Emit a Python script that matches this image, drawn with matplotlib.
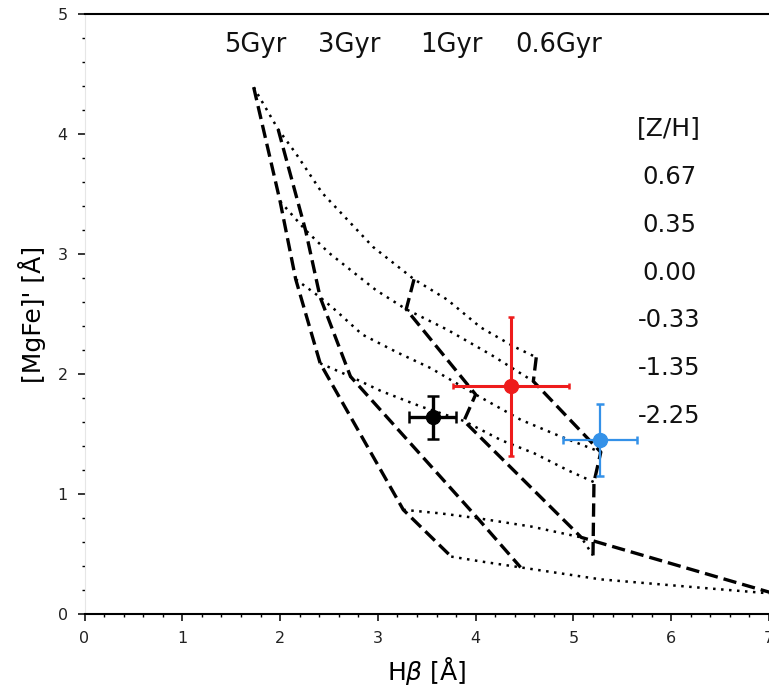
import numpy as np
import matplotlib.pyplot as plt
from matplotlib.ticker import MultipleLocator

# model grid labels
ages = ['5Gyr', '3Gyr', '1Gyr', '0.6Gyr']
metallicities = ['0.67', '0.35', '0.00', '-0.33', '-1.35', '-2.25']

# iso-age lines: one point per [Z/H] (nan = not in the grid)
age_hbeta = [
    [1.73, 2.00, 2.16, 2.41, 3.26, 3.75],
    [1.98, 2.26, 2.41, 2.72, 4.02, 4.46],
    [3.37, 3.29, 4.00, 3.88, 5.08, 7.06],
    [4.62, 4.59, 5.28, 5.21, 5.20, np.nan],
]
age_mgfe = [
    [4.39, 3.44, 2.79, 2.09, 0.87, 0.48],
    [4.04, 3.20, 2.64, 1.98, 0.80, 0.39],
    [2.79, 2.54, 1.83, 1.61, 0.64, 0.17],
    [2.14, 1.94, 1.35, 1.10, 0.49, np.nan],
]

# iso-metallicity tracks, old -> young
zh_hbeta = [
    [1.73, 1.98, 2.16, 2.43, 2.95, 3.37, 3.71, 4.05, 4.39, 4.62],
    [2.00, 2.26, 2.50, 2.98, 3.29, 3.71, 4.16, 4.59],
    [2.16, 2.41, 2.57, 2.84, 3.20, 3.54, 4.00, 4.46, 4.87, 5.28],
    [2.41, 2.72, 3.03, 3.44, 3.88, 4.26, 4.60, 4.94, 5.21],
    [3.26, 3.64, 4.02, 4.57, 5.08, 5.20],
    [3.75, 4.05, 4.46, 5.28, 6.31, 7.06],
]
zh_mgfe = [
    [4.39, 4.04, 3.84, 3.51, 3.06, 2.79, 2.62, 2.39, 2.23, 2.14],
    [3.44, 3.20, 3.01, 2.70, 2.54, 2.37, 2.16, 1.94],
    [2.79, 2.64, 2.53, 2.33, 2.18, 2.05, 1.83, 1.62, 1.48, 1.35],
    [2.09, 1.98, 1.86, 1.73, 1.61, 1.45, 1.34, 1.20, 1.10],
    [0.87, 0.84, 0.80, 0.73, 0.64, 0.49],
    [0.48, 0.44, 0.39, 0.29, 0.22, 0.17],
]

# measured indices
obj_hbeta = [3.56, 4.36, 5.27]
obj_hbeta_err = [0.24, 0.59, 0.38]
obj_mgfe = [1.64, 1.90, 1.45]
obj_mgfe_err = [0.18, 0.58, 0.30]
obj_colors = ['black', '#ee1c1c', '#3491e8']

fig = plt.figure(figsize=(7.69, 6.89), dpi=100)
ax = fig.add_axes([84.5 / 769, (689 - 614.2) / 689, (769 - 84.5) / 769, 600.2 / 689])

for hb, mg in zip(age_hbeta, age_mgfe):
    ax.plot(hb, mg, color='black', ls=(0, (4, 1.8)), lw=2.4, zorder=2)
for hb, mg in zip(zh_hbeta, zh_mgfe):
    ax.plot(hb, mg, color='black', ls=(0, (1, 2.2)), lw=1.8, zorder=2)

ms = [10, 10, 10]
elw = [2.4, 2.2, 1.6]
caps = [4.0, 2.0, 3.0]
for i in range(len(obj_hbeta)):
    ax.errorbar(obj_hbeta[i], obj_mgfe[i], xerr=obj_hbeta_err[i], yerr=obj_mgfe_err[i],
                fmt='o', color=obj_colors[i], ms=ms[i], elinewidth=elw[i],
                capsize=caps[i], capthick=1.8, zorder=4)

# age labels along the top
age_x = [1.75, 2.71, 3.75, 4.85]
for lab, x in zip(ages, age_x):
    ax.text(x, 4.68, lab, ha='center', va='baseline', fontsize=18.5, color='#111111')

# metallicity labels
ax.text(5.98, 3.995, '[Z/H]', ha='center', va='baseline', fontsize=18, color='#111111')
for i, lab in enumerate(metallicities):
    ax.text(5.98, 3.58 - 0.397 * i, lab, ha='center', va='baseline', fontsize=17.5,
            color='#111111')

ax.set_xlim(0, 7)
ax.set_ylim(0, 5)
ax.xaxis.set_major_locator(MultipleLocator(1))
ax.xaxis.set_minor_locator(MultipleLocator(0.2))
ax.yaxis.set_major_locator(MultipleLocator(1))
ax.yaxis.set_minor_locator(MultipleLocator(0.2))
ax.tick_params(which='major', direction='out', length=5, width=1.1, labelsize=11.5,
               pad=7, labelcolor='#222222')
ax.tick_params(which='minor', direction='out', length=2.5, width=1.0)

ax.spines['right'].set_visible(False)
ax.spines['left'].set_color('#e6e6e6')
ax.spines['top'].set_linewidth(1.5)
ax.spines['bottom'].set_linewidth(1.5)

ax.set_xlabel(r'H$\beta$ [Å]', fontsize=18)
ax.set_ylabel("[MgFe]' [Å]", fontsize=18)
ax.xaxis.set_label_coords(0.5, -0.068)
ax.yaxis.set_label_coords(-0.056, 0.5)

fig.savefig('out.png', dpi=100)
